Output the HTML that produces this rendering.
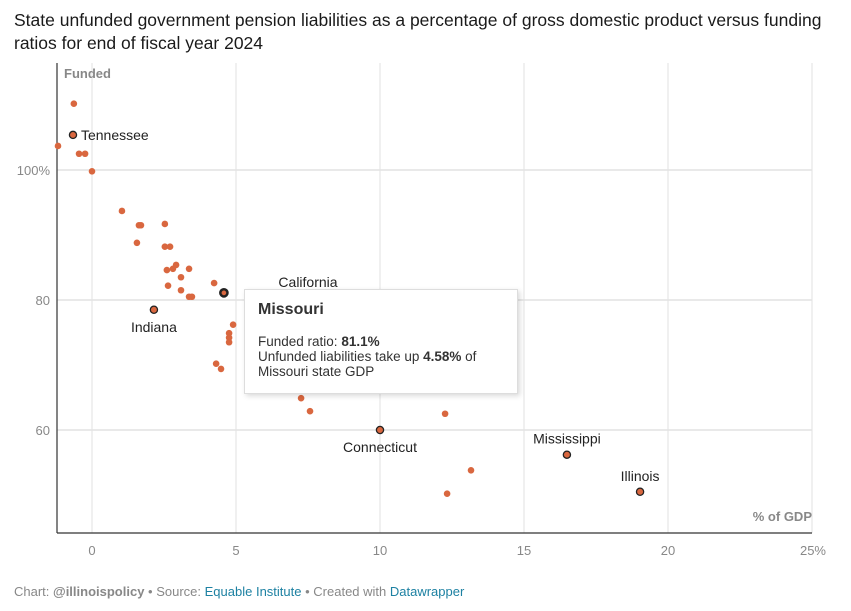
<!DOCTYPE html>
<html><head><meta charset="utf-8"><style>
body{margin:0;background:#fff;font-family:"Liberation Sans",Roboto,sans-serif;width:851px;height:611px;overflow:hidden;position:relative}
.title{position:absolute;left:14px;top:9px;width:820px;font-size:17.5px;line-height:23px;color:#1a1a1a}
.foot{position:absolute;left:14px;top:584px;font-size:13px;color:#888}
.foot a{color:#1d81a2;text-decoration:none}
.tip{position:absolute;left:244px;top:289px;width:274px;height:105px;background:#fff;border:1px solid #ddd;box-shadow:2px 2px 5px rgba(0,0,0,.15);box-sizing:border-box;padding:12px 13px;color:#333;font-size:13.5px;line-height:15px}
.tip h4{margin:0 0 17px;font-size:16px}
</style></head><body>
<div class="title">State unfunded government pension liabilities as a percentage of gross domestic product versus funding ratios for end of fiscal year 2024</div>
<svg id="chart" width="851" height="611" style="position:absolute;left:0;top:0"></svg>
<div class="tip"><h4>Missouri</h4>Funded ratio: <b>81.1%</b><br>Unfunded liabilities take up <b>4.58%</b> of<br>Missouri state GDP</div>
<div class="foot">Chart: <b style="color:#888">@illinoispolicy</b> • Source: <a>Equable Institute</a> • Created with <a>Datawrapper</a></div>
<script>
const xVals=[-1.22,-0.63,-0.66,-0.45,-0.24,0,1.04,1.63,1.70,2.53,1.56,2.53,2.71,2.92,2.60,2.81,3.37,3.09,2.64,3.09,3.37,3.47,4.24,4.58,2.15,4.90,4.76,4.76,4.76,4.31,4.48,7.26,7.57,10,12.26,13.16,12.33,16.49,19.03,7.5];
const yVals=[103.7,110.2,105.4,102.5,102.5,99.8,93.7,91.5,91.5,91.7,88.8,88.2,88.2,85.4,84.6,84.8,84.8,83.5,82.2,81.5,80.5,80.5,82.6,81.1,78.5,76.2,74.9,74.2,73.5,70.2,69.4,64.9,62.9,60,62.5,53.8,50.2,56.2,50.5,77];
const names=["","","Tennessee","","","","","","","","","","","","","","","","","","","","","Missouri","Indiana","","","","","","","","","Connecticut","","","","Mississippi","Illinois","California"];
const xTicks=[0,5,10,15,20,25];
const yTicks=[60,80,100];
const X=v=>92+v*28.8, Y=v=>300-(v-80)*6.5;
const svg=document.getElementById('chart');const NS='http://www.w3.org/2000/svg';
function mk(t,a,txt){const e=document.createElementNS(NS,t);for(const k in a)e.setAttribute(k,a[k]);if(txt!=null)e.textContent=txt;svg.appendChild(e);return e;}
yTicks.forEach(t=>{const l=mk('line',{x1:57,x2:812,y1:Y(t),y2:Y(t),stroke:'#e2e2e2','stroke-width':1.5});


const tx=mk('text',{x:50,y:Y(t)+5,'text-anchor':'end','font-size':13,fill:'#888'},t===100?'100%':t);

});
xTicks.forEach(t=>{const l=mk('line',{x1:X(t),x2:X(t),y1:63,y2:533,stroke:'#e2e2e2','stroke-width':1});


const tx=mk('text',{x:X(t),y:555,'text-anchor':t===25?'end':'middle','font-size':13,fill:'#888'},t===25?'25%':t);
if(t===25)tx.setAttribute('x',X(t)+14);

});
let ax=mk('line',{x1:57,x2:57,y1:63,y2:533,stroke:'#333','stroke-width':1.2});


ax=mk('line',{x1:57,x2:812,y1:533,y2:533,stroke:'#333','stroke-width':1.2});


let t1=mk('text',{x:64,y:78,'font-size':13,'font-weight':'bold',fill:'#888'},'Funded');


t1=mk('text',{x:812,y:521,'text-anchor':'end','font-size':13,'font-weight':'bold',fill:'#888'},'% of GDP');


xVals.forEach((v,i)=>{const n=names[i];const c=mk('circle',{cx:Math.max(X(v),58),cy:Y(yVals[i]),r:n?3.6:3.3,fill:'#d9673f',stroke:n?'#222':'none','stroke-width':n==='Missouri'?2.5:1.3});


if(n){let a={x:X(v),y:Y(yVals[i])+22,'text-anchor':'middle','font-size':14,fill:'#222'};
if(n==='Tennessee'){a={x:X(v)+8,y:Y(yVals[i])+5,'font-size':14,fill:'#222'};}
if(n==='Mississippi'||n==='Illinois'){a.y=Y(yVals[i])-11;}
if(n==='California'){a.y=287;}
if(n==='Missouri')return;
const l=mk('text',a,n);

}});
</script>
</body></html>
